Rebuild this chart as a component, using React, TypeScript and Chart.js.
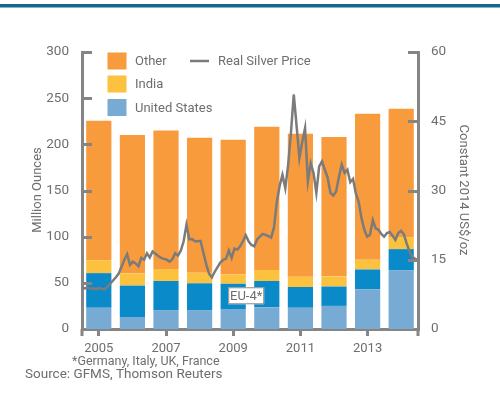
import React, { useEffect, useRef } from 'react';
import { Chart, registerables } from 'chart.js';

Chart.register(...registerables);

// ---- data ----
const years = ['2005', '2006', '2007', '2008', '2009', '2010', '2011', '2012', '2013', '2014'];
const tickYears = ['2005', '2007', '2009', '2011', '2013'];

const unitedStates = [23, 13, 20.5, 20.5, 21, 23.5, 23, 25, 43, 63.5];
const eu4 = [37.5, 34, 31.5, 29, 28, 28.5, 22.5, 21, 21.5, 23];
const india = [14, 13, 13, 11.5, 10, 12, 11, 11, 10.5, 13];
const other = [151, 150, 150, 146, 146, 155, 155, 151, 158, 139];

// Real silver price, monthly Jan 2005 - Dec 2014, constant 2014 US$/oz
const silverPrice = [
  9.0, 8.8, 9.0, 8.7, 8.8, 8.6, 8.9, 8.7, 8.6, 9.2, 9.8, 10.5,
  11.2, 12.0, 13.5, 15.0, 16.2, 13.9, 14.6, 14.2, 13.6, 15.4, 15.0, 16.4,
  15.5, 16.8, 16.3, 15.8, 15.4, 15.2, 15.0, 14.6, 15.1, 16.4, 15.9, 17.0,
  19.0, 22.6, 19.4, 19.5, 19.0, 19.0, 19.1, 16.5, 14.0, 12.0, 11.2, 12.4,
  13.4, 14.4, 15.0, 15.2, 17.0, 15.4, 17.4, 17.2, 17.9, 19.0, 20.3, 19.0,
  18.2, 17.9, 19.4, 20.0, 20.6, 20.4, 20.1, 19.8, 22.0, 27.5, 31.0, 33.4,
  30.5, 35.5, 42.5, 50.8, 44.0, 37.0, 40.5, 43.5, 32.0, 35.9, 33.8, 29.5,
  35.2, 36.3, 34.5, 32.8, 29.5, 28.9, 29.8, 33.0, 35.6, 33.8, 34.5, 31.8,
  32.5, 29.3, 27.5, 24.0, 21.5, 20.0, 20.4, 23.6, 21.8, 21.5, 20.6, 20.0,
  20.8, 21.0, 20.2, 19.3, 20.8, 21.3, 20.5, 18.5, 16.8, 15.6, 15.2, 15.0,
];

const leftTicks = [0, 50, 100, 150, 200, 250, 300];
const rightTicks = [0, 15, 30, 45, 60];

// ---- styles ----
const C_OTHER = '#F89B3D';
const C_INDIA = '#FCC23F';
const C_EU = '#0B8AC9';
const C_US = '#78ABD3';
const C_LINE = '#7B7B7B';
const C_AXIS = '#858585';
const C_TEXT = '#6E6E6E';
const C_TOPBAR = '#16678F';
const FONT = 'Roboto, "Open Sans", sans-serif';

const overlayPlugin = {
  id: 'overlay',
  afterDraw(chart: any) {
    const { ctx, chartArea } = chart;
    const x = chart.scales.x;
    const y = chart.scales.y;
    const y2 = chart.scales.y2;
    ctx.save();

    // top rule
    ctx.fillStyle = C_TOPBAR;
    ctx.fillRect(0, 4, 500, 3.5);

    // inner ticks
    ctx.strokeStyle = C_AXIS;
    ctx.lineWidth = 3;
    ctx.beginPath();
    leftTicks.forEach((v) => {
      if (v === 0) return;
      const py = Math.round(y.getPixelForValue(v)) + 0.5;
      ctx.moveTo(chartArea.left, py);
      ctx.lineTo(chartArea.left + 10, py);
    });
    rightTicks.forEach((v) => {
      if (v === 0) return;
      const py = Math.round(y2.getPixelForValue(v)) + 0.5;
      ctx.moveTo(chartArea.right, py);
      ctx.lineTo(chartArea.right - 10, py);
    });
    // axis end stubs below x axis
    ctx.moveTo(chartArea.left, chartArea.bottom);
    ctx.lineTo(chartArea.left, chartArea.bottom + 7);
    ctx.moveTo(chartArea.right, chartArea.bottom);
    ctx.lineTo(chartArea.right, chartArea.bottom + 7);
    ctx.stroke();

    // EU-4* label
    const bx = x.getPixelForValue(4) - 5;
    const by = y.getPixelForValue(36) - 8.5;
    ctx.fillStyle = '#ffffff';
    ctx.fillRect(bx, by, 36, 17);
    ctx.strokeStyle = '#8a8a8a';
    ctx.lineWidth = 1;
    ctx.strokeRect(bx + 0.5, by + 0.5, 35, 16);
    ctx.fillStyle = C_TEXT;
    ctx.font = `13px ${FONT}`;
    ctx.textAlign = 'center';
    ctx.textBaseline = 'middle';
    ctx.fillText('EU-4*', bx + 18, by + 9);

    // legend
    ctx.textAlign = 'left';
    ctx.font = `13px ${FONT}`;
    const items = [
      { label: 'Other', color: C_OTHER, yy: 61 },
      { label: 'India', color: C_INDIA, yy: 84 },
      { label: 'United States', color: C_US, yy: 107.5 },
    ];
    items.forEach((it) => {
      ctx.fillStyle = it.color;
      ctx.fillRect(107.5, it.yy - 8.5, 19, 17);
      ctx.fillStyle = C_TEXT;
      ctx.fillText(it.label, 135, it.yy + 1);
    });
    ctx.strokeStyle = C_LINE;
    ctx.lineWidth = 2.5;
    ctx.beginPath();
    ctx.moveTo(190, 61);
    ctx.lineTo(209, 61);
    ctx.stroke();
    ctx.fillStyle = C_TEXT;
    ctx.fillText('Real Silver Price', 218, 62);

    // axis titles
    ctx.textAlign = 'center';
    ctx.save();
    ctx.translate(38, 190);
    ctx.rotate(-Math.PI / 2);
    ctx.fillText('Million Ounces', 0, 0);
    ctx.restore();
    ctx.save();
    ctx.translate(463, 190);
    ctx.rotate(Math.PI / 2);
    ctx.fillText('Constant 2014 US$/oz', 0, 0);
    ctx.restore();

    // footnotes
    ctx.textAlign = 'left';
    ctx.font = `12.5px ${FONT}`;
    ctx.fillText('*Germany, Italy, UK, France', 72, 362);
    ctx.font = `13.5px ${FONT}`;
    ctx.fillText('Source: GFMS, Thomson Reuters', 25, 375);

    ctx.restore();
  },
};

export default function App() {
  const ref = useRef<HTMLCanvasElement>(null);

  useEffect(() => {
    if (!ref.current) return;
    Chart.defaults.font.family = FONT;
    const bar = (label: string, data: number[], color: string) => ({
      type: 'bar' as const,
      label,
      data,
      backgroundColor: color,
      borderWidth: 0,
      xAxisID: 'x',
      yAxisID: 'y',
      stack: 'demand',
      order: 1,
      grouped: false,
      categoryPercentage: 1,
      barPercentage: 0.75,
    });
    const chart = new Chart(ref.current, {
      type: 'bar',
      data: {
        labels: years,
        datasets: [
          {
            type: 'line',
            label: 'Real Silver Price',
            data: silverPrice.map((v, i) => ({ x: i, y: v })),
            borderColor: C_LINE,
            borderWidth: 2.5,
            pointRadius: 0,
            tension: 0,
            xAxisID: 'xLine',
            yAxisID: 'y2',
            order: 0,
          } as any,
          bar('United States', unitedStates, C_US),
          bar('EU-4*', eu4, C_EU),
          bar('India', india, C_INDIA),
          bar('Other', other, C_OTHER),
        ],
      },
      options: {
        responsive: false,
        animation: false,
        devicePixelRatio: 1,
        layout: { padding: { top: 52, left: 0, right: 0, bottom: 0 } },
        plugins: { legend: { display: false }, tooltip: { enabled: false } },
        scales: {
          x: {
            type: 'category',
            stacked: true,
            offset: true,
            grid: {
              offset: false,
              drawOnChartArea: false,
              drawTicks: true,
              tickLength: 7,
              lineWidth: 3,
              color: (c: any) =>
                tickYears.includes(years[c.index]) ? C_AXIS : 'rgba(0,0,0,0)',
            },
            border: { display: true, color: C_AXIS, width: 3 },
            ticks: {
              autoSkip: false,
              maxRotation: 0,
              padding: 5,
              color: C_TEXT,
              font: { size: 13 },
              callback: (_v: any, i: number) =>
                tickYears.includes(years[i]) ? years[i] : '',
            },
            afterFit: (s: any) => {
              s.height = 67;
            },
          },
          xLine: {
            type: 'linear',
            display: false,
            offset: false,
            min: 0,
            max: silverPrice.length - 1,
          },
          y: {
            position: 'left',
            stacked: true,
            min: 0,
            max: 300,
            grid: { display: false },
            border: { display: true, color: C_AXIS, width: 3 },
            ticks: { stepSize: 50, padding: 5, color: C_TEXT, font: { size: 13.5 } },
            afterFit: (s: any) => {
              s.width = 82;
            },
          },
          y2: {
            position: 'right',
            min: 0,
            max: 60,
            grid: { display: false },
            border: { display: true, color: C_AXIS, width: 3 },
            ticks: { stepSize: 15, padding: 5, color: C_TEXT, font: { size: 13.5 } },
            afterFit: (s: any) => {
              s.width = 82;
            },
          },
        },
      } as any,
      plugins: [overlayPlugin],
    });
    return () => chart.destroy();
  }, []);

  return (
    <div
      style={{
        position: 'fixed',
        left: 0,
        top: 0,
        width: 500,
        height: 396,
        background: '#ffffff',
      }}
    >
      <canvas ref={ref} width={500} height={396} style={{ width: 500, height: 396, display: 'block' }} />
    </div>
  );
}
